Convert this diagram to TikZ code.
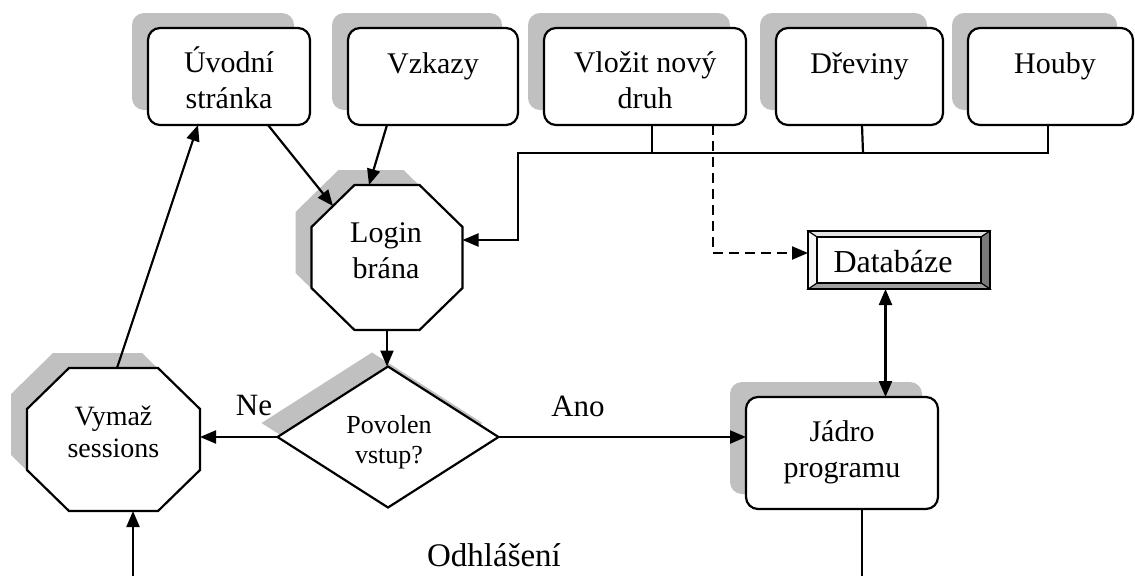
\documentclass[tikz,border=0pt]{standalone}
\usepackage{fontspec}
\setmainfont{Liberation Serif}
\usetikzlibrary{arrows.meta,calc}
\definecolor{shadowgray}{HTML}{C0C0C0}
\definecolor{bevtop}{HTML}{E2E2E2}
\definecolor{bevleft}{HTML}{F4F4F4}
\definecolor{bevbottom}{HTML}{A0A0A0}
\definecolor{bevright}{HTML}{7A7A7A}
\newcommand\twol[2]{\vtop{\halign{\hfil##\hfil\cr#1\cr#2\cr}}}
\begin{document}
\begin{tikzpicture}[x=1pt,y=-1pt,
  frame/.style={rectangle,draw=none,fill=none,inner sep=0pt,outer sep=0pt},
  shad/.style={preaction={fill=shadowgray,transform canvas={xshift=-16pt,yshift=15pt}}},
  rbox/.style={rectangle,rounded corners=12pt,draw,line width=2.2pt,fill=white,inner sep=0pt,outer sep=0pt,shad},
  outl/.style={draw,line width=2.2pt,fill=white},
  lbl/.style={inner sep=0pt,anchor=base,font=\fontsize{30}{36.5}\selectfont},
  conn/.style={line width=2.2pt},
  arr/.style={conn,-{Triangle[length=16pt,width=13pt]}},
  darr/.style={conn,{Triangle[length=16pt,width=13pt]}-{Triangle[length=16pt,width=13pt]}},
  dsh/.style={conn,dash pattern=on 10pt off 6pt,-{Triangle[length=16pt,width=13pt]}}]
\useasboundingbox (0,0) rectangle (1135,576);

% top boxes
\node[rbox,minimum width=162pt,minimum height=97pt] (uvodni) at (229,76.5) {};
\node[rbox,minimum width=170pt,minimum height=97pt] (vzkazy) at (433,76.5) {};
\node[rbox,minimum width=202pt,minimum height=97pt] (vlozit) at (645,76.5) {};
\node[rbox,minimum width=167pt,minimum height=97pt] (drevi) at (859.5,76.5) {};
\node[rbox,minimum width=165pt,minimum height=97pt] (houby) at (1050.5,76.5) {};
\node[rbox,minimum width=192pt,minimum height=112pt] (jadro) at (842,453) {};

% octagons
\node[frame,minimum width=151pt,minimum height=145pt] (login) at (387,257.5) {};
\draw[outl,shad] ([xshift=43pt]login.north west) -- ([xshift=-43pt]login.north east)
  -- ([yshift=-42pt]login.north east) -- ([yshift=42pt]login.south east)
  -- ([xshift=-43pt]login.south east) -- ([xshift=43pt]login.south west)
  -- ([yshift=42pt]login.south west) -- ([yshift=-42pt]login.north west) -- cycle;
\node[frame,minimum width=173pt,minimum height=143pt] (vymaz) at (113.5,439.5) {};
\draw[outl,shad] ([xshift=42pt]vymaz.north west) -- ([xshift=-42pt]vymaz.north east)
  -- ([yshift=-41pt]vymaz.north east) -- ([yshift=41pt]vymaz.south east)
  -- ([xshift=-42pt]vymaz.south east) -- ([xshift=42pt]vymaz.south west)
  -- ([yshift=41pt]vymaz.south west) -- ([yshift=-41pt]vymaz.north west) -- cycle;

% diamond
\node[frame,minimum width=221pt,minimum height=141pt] (dia) at (388,437) {};
\draw[outl,preaction={fill=shadowgray,transform canvas={xshift=-16pt,yshift=14pt}}]
  (dia.north) -- (dia.east) -- (dia.south) -- (dia.west) -- cycle;

% database (bevel)
\node[frame,minimum width=182pt,minimum height=58pt] (db) at (899,260) {};
\coordinate (dbA) at ([xshift=9pt,yshift=-6pt]db.north west);
\coordinate (dbB) at ([xshift=-9pt,yshift=-6pt]db.north east);
\coordinate (dbC) at ([xshift=-9pt,yshift=6pt]db.south east);
\coordinate (dbD) at ([xshift=9pt,yshift=6pt]db.south west);
\draw[line width=1pt,fill=bevtop] (db.north west) -- (db.north east) -- (dbB) -- (dbA) -- cycle;
\draw[line width=1pt,fill=bevright] (db.north east) -- (db.south east) -- (dbC) -- (dbB) -- cycle;
\draw[line width=1pt,fill=bevbottom] (db.south east) -- (db.south west) -- (dbD) -- (dbC) -- cycle;
\draw[line width=1pt,fill=bevleft] (db.south west) -- (db.north west) -- (dbA) -- (dbD) -- cycle;
\draw[line width=1.4pt,fill=white] (dbA) rectangle (dbC);
\draw[line width=2pt] (db.north west) rectangle (db.south east);

% texts
\node[lbl] (uvodniT) at (229,72) {\twol{Úvodní}{stránka}};
\node[lbl] (vzkazyT) at (433,73) {Vzkazy};
\node[lbl] (vlozitT) at (645,72) {\twol{Vložit nový}{druh}};
\node[lbl] (dreviT) at (859.5,73) {Dřeviny};
\node[lbl] (houbyT) at (1055,73) {Houby};
\node[lbl] (loginT) at (386,242) {\twol{Login}{brána}};
\node[lbl,font=\fontsize{28}{32}\selectfont] (vymazT) at (113.5,425) {\twol{Vymaž}{sessions}};
\node[lbl,font=\fontsize{26}{30}\selectfont] (diaT) at (389,433) {\twol{Povolen}{vstup?}};
\node[lbl] (jadroT) at (842,441) {\twol{Jádro}{programu}};
\node[lbl,font=\fontsize{32}{38}\selectfont] (dbT) at (893,272) {Databáze};
\node[lbl,font=\fontsize{31}{37}\selectfont] (ne) at (254,415) {Ne};
\node[lbl,font=\fontsize{31}{37}\selectfont] (ano) at (578,416) {Ano};
\node[lbl,font=\fontsize{33}{39}\selectfont] (odhl) at (494,566) {Odhlášení};

% connectors
\coordinate (busL) at (518,153);
\coordinate (loginIn) at (518,240);
\coordinate (botL) at (133,576);
\coordinate (botR) at (862,576);
\coordinate (loginNW) at ($([yshift=-42pt]login.north west)!0.5!([xshift=43pt]login.north west)$);

\draw[conn] ([xshift=7pt]vlozit.south) -- ([xshift=7pt]vlozit.south |- busL);
\draw[conn] ([xshift=2.5pt]drevi.south) -- ([xshift=3.5pt]drevi.south |- busL);
\draw[arr] ([xshift=-2.5pt]houby.south) |- (busL) |- (login.east |- loginIn);
\draw[dsh] ([xshift=68pt]vlozit.south) |- ([yshift=7pt]db.west);
\draw[darr] ([xshift=-13.5pt]db.south) -- ([xshift=-13.5pt]db.south |- jadro.north);

\draw[arr] ([xshift=39pt]uvodni.south) -- (loginNW);
\draw[arr] ([xshift=-46pt]vzkazy.south) -- ([xshift=-18pt]login.north);
\draw[arr] (login.south) -- (login.south |- dia.north);
\draw[arr] (dia.west) -- (dia.west -| vymaz.east);
\draw[arr] (dia.east) -- (dia.east -| jadro.west);
\draw[arr] ([xshift=3.5pt]vymaz.north) -- ([xshift=-31pt]uvodni.south);
\draw[arr] (botL) -- (botL |- vymaz.south);
\draw[conn] ([xshift=20pt]jadro.south) -- (botR);
\end{tikzpicture}
\end{document}
